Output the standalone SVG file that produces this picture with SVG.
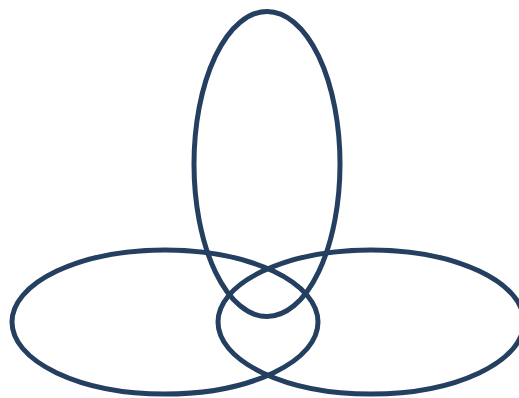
<svg xmlns="http://www.w3.org/2000/svg" width="519" height="398" viewBox="0 0 519 398">
<style>.e{fill:none;stroke:#243F60;stroke-width:5}</style>
<rect width="519" height="398" fill="#fff"/>
<g id="top"><ellipse class="e" cx="267" cy="164" rx="73" ry="152.5"/></g>
<g id="left"><ellipse class="e" cx="165" cy="322" rx="153" ry="72"/></g>
<g id="right"><ellipse class="e" cx="371" cy="322" rx="153" ry="72"/></g>
</svg>
